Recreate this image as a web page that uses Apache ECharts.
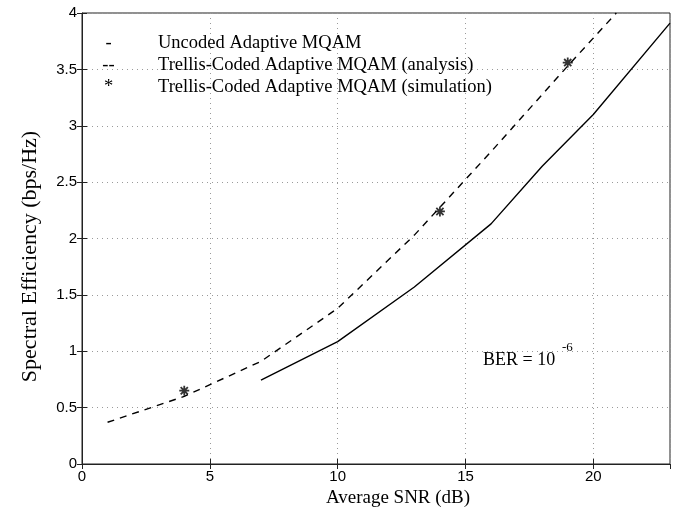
<!DOCTYPE html>
<html><head><meta charset="utf-8">
<script src="https://cdn.jsdelivr.net/npm/echarts@6/dist/echarts.min.js"></script>
<style>html,body{margin:0;padding:0;background:#fff}#c{width:674px;height:516px}</style>
</head><body><div id="c"></div>
<script>
const uncodedSNR = [7, 10, 13, 16, 18, 20, 23];
const uncodedEff = [0.745, 1.085, 1.57, 2.13, 2.64, 3.1, 3.91];
const tcmSNR = [1, 4, 7, 10, 13, 16, 19, 20.9];
const tcmEff = [0.37, 0.6, 0.91, 1.38, 2.03, 2.77, 3.53, 4.0];
const simSNR = [4, 14, 19];
const simEff = [0.65, 2.24, 3.56];
const xTicks = [0, 5, 10, 15, 20];
const yTicks = [0, 0.5, 1, 1.5, 2, 2.5, 3, 3.5, 4];
const seriesNames = ['Uncoded Adaptive MQAM', 'Trellis-Coded Adaptive MQAM (analysis)', 'Trellis-Coded Adaptive MQAM (simulation)'];
const legendMarks = ['-', '--', '*'];

const SERIF = '"Liberation Serif", "DejaVu Serif", serif';
const SANS = '"Liberation Sans", Arial, sans-serif';
const zip = (a, b) => a.map((v, i) => [v, b[i]]);
const star = 'path://M0,-5L0,5M-5,0L5,0M-3.6,-3.6L3.6,3.6M-3.6,3.6L3.6,-3.6';

const chart = echarts.init(document.getElementById('c'), null, {renderer: 'canvas'});
const gridLine = {show: true, lineStyle: {color: '#9a9a9a', width: 1, type: [1, 4]}};
const baseX = {type: 'value', min: 0, max: 23, interval: 5};
const baseY = {type: 'value', min: 0, max: 4, interval: 0.5};
chart.setOption({
  animation: false,
  backgroundColor: '#fff',
  grid: {left: 82, right: 4, top: 13, bottom: 52, show: true, borderColor: '#222', borderWidth: 1},
  xAxis: [
    Object.assign({}, baseX, {
      position: 'bottom',
      name: 'Average SNR (dB)', nameLocation: 'middle', nameGap: 25,
      nameTextStyle: {fontFamily: SERIF, fontSize: 19, color: '#000', padding: [0, 0, 0, 44]},
      axisLine: {show: true, lineStyle: {color: '#222', width: 1}},
      axisTick: {show: true, inside: true, length: 5, lineStyle: {color: '#222'}},
      axisLabel: {fontFamily: SANS, fontSize: 15, color: '#000', margin: 5, showMaxLabel: false,
        formatter: v => xTicks.includes(v) ? String(v) : ''},
      splitLine: gridLine
    }),
    Object.assign({}, baseX, {
      position: 'top', axisLine: {show: false}, axisLabel: {show: false}, splitLine: {show: false},
      axisTick: {show: true, inside: true, length: 5, lineStyle: {color: '#222'}}
    })
  ],
  yAxis: [
    Object.assign({}, baseY, {
      position: 'left',
      name: 'Spectral Efficiency (bps/Hz)', nameLocation: 'middle', nameGap: 41,
      nameTextStyle: {fontFamily: SERIF, fontSize: 22, color: '#000', padding: [0, 36, 0, 0]},
      axisLine: {show: true, lineStyle: {color: '#222', width: 1}},
      axisTick: {show: true, inside: true, length: 5, lineStyle: {color: '#222'}},
      axisLabel: {fontFamily: SANS, fontSize: 15, color: '#000', margin: 5,
        formatter: v => yTicks.includes(v) ? String(v) : ''},
      splitLine: gridLine
    }),
    Object.assign({}, baseY, {
      position: 'right', axisLine: {show: false}, axisLabel: {show: false}, splitLine: {show: false},
      axisTick: {show: true, inside: true, length: 5, lineStyle: {color: '#222'}}
    })
  ],
  legend: {
    show: true, orient: 'vertical', left: 95, top: 32, padding: 0,
    itemWidth: 0, itemHeight: 0, itemGap: 0, selectedMode: false,
    data: seriesNames,
    formatter: name => '{m|' + legendMarks[seriesNames.indexOf(name)] + '}{t|' + name + '}',
    textStyle: {fontFamily: SERIF, fontSize: 18.5, color: '#000', lineHeight: 22,
      rich: {
        m: {fontFamily: SERIF, fontSize: 18.5, width: 15, align: 'center', lineHeight: 22},
        t: {fontFamily: SERIF, fontSize: 18.5, lineHeight: 22, padding: [0, 0, 0, 42]}
      }}
  },
  graphic: [
    {type: 'text', left: 483, top: 351, silent: true,
      style: {text: 'BER = 10', fontFamily: SERIF, fontSize: 18, fill: '#000'}},
    {type: 'text', left: 562, top: 341, silent: true,
      style: {text: '-6', fontFamily: SERIF, fontSize: 13, fill: '#000'}}
  ],
  series: [
    {name: seriesNames[0], type: 'line', data: zip(uncodedSNR, uncodedEff), symbol: 'none',
      lineStyle: {color: '#000', width: 1.4}, itemStyle: {color: '#000'}, clip: true},
    {name: seriesNames[1], type: 'line', data: zip(tcmSNR, tcmEff), symbol: 'none',
      lineStyle: {color: '#000', width: 1.4, type: [7, 6]}, itemStyle: {color: '#000'}, clip: true},
    {name: seriesNames[2], type: 'scatter', data: zip(simSNR, simEff), symbol: star, symbolSize: 10,
      itemStyle: {color: '#000', borderColor: '#000', borderWidth: 1.8}}
  ]
});
</script></body></html>
